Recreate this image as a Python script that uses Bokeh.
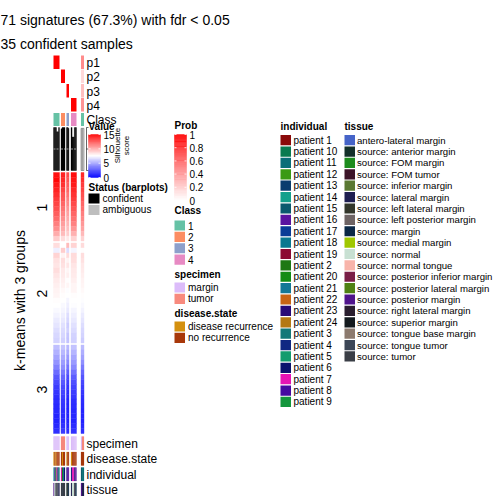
import numpy as np
from bokeh.plotting import figure
from bokeh.models import ColumnDataSource, Range1d, LinearColorMapper
from bokeh.core.properties import value
from bokeh.embed import file_html
from bokeh.resources import INLINE

# ---------------- data ----------------
title_line1 = "71 signatures (67.3%) with fdr < 0.05"
title_line2 = "35 confident samples"
row_title = "k-means with 3 groups"
row_groups = ["1", "2", "3"]

class_levels = ["1", "2", "3", "4"]
class_colors = ["#66C2A5", "#FC8D62", "#8DA0CB", "#E78AC3"]
slice_class = ["1", "2", "3", "4", "1"]

prob_names = ["p1", "p2", "p3", "p4"]
prob_p1 = [1.0, 0.0, 0.0, 0.0, 0.45]
prob_p2 = [0.0, 1.0, 0.0, 0.0, 0.15]
prob_p3 = [0.0, 0.0, 1.0, 0.0, 0.25]
prob_p4 = [0.0, 0.0, 0.0, 1.0, 0.42]
prob_ticks = [1, 0.8, 0.6, 0.4, 0.2, 0]
prob_tick_labels = ["1", "0.8", "0.6", "0.4", "0.2", "0"]

value_ticks = [15, 10, 5, 0]
value_tick_labels = ["15", "10", "5", "0"]

# heatmap values per column slice, rows top->bottom (group 1: 14 bins, group 2: 20 bins, group 3: 18 bins)
hm_s1 = [14.5, 14.8, 14.2, 14.0, 13.6, 13.3, 13.0, 12.6, 12.2, 11.8, 11.3, 10.8, 10.0, 9.0,
         8.5, 7.0, 8.8, 8.4, 8.3, 8.5, 8.3, 8.1, 8.0, 7.9, 7.8, 7.6, 7.5, 7.3, 7.1, 6.9, 6.7, 6.5, 6.3, 6.2,
         5.6, 5.2, 4.8, 4.3, 3.8, 3.2, 2.6, 2.2, 1.8, 1.6, 1.4, 1.3, 1.2, 1.2, 1.1, 1.0, 1.2, 1.4]
hm_s2 = [14.0, 13.8, 13.5, 13.0, 12.5, 12.4, 12.0, 11.6, 11.2, 10.8, 10.4, 10.0, 9.5, 8.5,
         7.5, 9.0, 7.9, 8.5, 8.4, 8.2, 8.1, 8.0, 7.9, 7.7, 7.6, 7.5, 7.3, 7.2, 7.0, 6.8, 6.6, 6.4, 6.3, 6.1,
         5.8, 5.4, 5.0, 4.6, 4.2, 3.6, 3.0, 2.6, 2.2, 2.0, 1.8, 1.6, 1.5, 1.4, 1.3, 1.3, 1.5, 1.7]
hm_s3 = [12.8, 12.5, 12.2, 12.0, 11.6, 11.2, 11.0, 10.6, 10.3, 10.0, 9.7, 9.4, 9.0, 8.2,
         9.5, 6.5, 8.6, 7.9, 8.3, 7.8, 8.0, 7.6, 7.8, 7.4, 7.5, 7.2, 7.0, 6.8, 6.5, 6.3, 6.0, 6.1, 5.8, 5.7,
         5.4, 5.0, 4.5, 4.0, 3.4, 2.8, 2.2, 1.8, 1.5, 1.3, 1.2, 1.1, 1.0, 1.0, 1.0, 1.1, 1.2, 1.4]
hm_s4 = [14.6, 14.4, 14.2, 13.8, 13.5, 13.2, 12.8, 12.4, 12.0, 11.6, 11.2, 10.6, 9.8, 8.8,
         8.8, 7.2, 8.6, 8.5, 8.3, 8.2, 8.1, 8.0, 7.8, 7.8, 7.6, 7.5, 7.4, 7.2, 7.0, 6.8, 6.6, 6.4, 6.2, 6.1,
         5.7, 5.3, 4.9, 4.5, 4.0, 3.4, 2.8, 2.4, 2.0, 1.8, 1.6, 1.4, 1.3, 1.2, 1.2, 1.1, 1.3, 1.5]
hm_s5 = [13.8, 13.6, 13.2, 13.0, 12.6, 12.4, 12.0, 11.7, 11.3, 11.0, 10.6, 10.2, 9.6, 8.8,
         8.6, 7.6, 8.5, 8.4, 8.2, 8.1, 8.0, 7.9, 7.8, 7.7, 7.6, 7.4, 7.3, 7.1, 6.9, 6.7, 6.5, 6.3, 6.2, 6.0,
         5.5, 5.1, 4.7, 4.2, 3.6, 3.0, 2.5, 2.1, 1.8, 1.6, 1.4, 1.3, 1.2, 1.1, 1.1, 1.0, 1.2, 1.4]

# samples (columns) per slice
sample_slice = [0, 0, 0, 0, 0, 0, 1, 1, 1, 1, 2, 2, 2, 3, 3, 3, 3, 3, 4, 4, 4]
silhouette = [1.0, 1.0, 1.0, 0.9, 0.9, 1.0,
              0.97, 1.0, 1.0, 1.0,
              1.0, 1.0, 0.98,
              1.0, 0.78, 0.78, 1.0, 1.0,
              0.98, 0.98, 0.98]
status = ["confident"] * 18 + ["ambiguous"] * 3
status_levels = ["confident", "ambiguous"]
status_colors = ["#000000", "#BEBEBE"]

specimen = ["margin"] * 6 + ["tumor"] * 4 + ["margin"] * 3 + ["margin"] * 5 + ["margin", "tumor", "tumor"]
specimen_levels = ["margin", "tumor"]
specimen_colors = ["#DCBCFA", "#F88A7E"]

disease = ["disease recurrence", "no recurrence", "disease recurrence", "no recurrence", "no recurrence", "no recurrence",
           "no recurrence", "disease recurrence", "no recurrence", "no recurrence",
           "disease recurrence", "no recurrence", "no recurrence",
           "disease recurrence", "no recurrence", "no recurrence", "no recurrence", "no recurrence",
           "no recurrence", "no recurrence", "no recurrence"]
disease_levels = ["disease recurrence", "no recurrence"]
disease_colors = ["#D4900F", "#A8380A"]

individual = ["patient 14", "patient 8", "patient 20", "patient 7", "patient 13", "patient 11",
              "patient 7", "patient 2", "patient 21", "patient 6",
              "patient 23", "patient 8", "patient 16",
              "patient 4", "patient 7", "patient 7", "patient 23", "patient 16",
              "patient 15", "patient 3", "patient 11"]
individual_levels = ["patient 1", "patient 10", "patient 11", "patient 12", "patient 13", "patient 14",
                     "patient 15", "patient 16", "patient 17", "patient 18", "patient 19", "patient 2",
                     "patient 20", "patient 21", "patient 22", "patient 23", "patient 24", "patient 3",
                     "patient 4", "patient 5", "patient 6", "patient 7", "patient 8", "patient 9"]
individual_colors = ["#8B0A0A", "#0A7A50", "#0A6E78", "#3A9A14", "#0A3C6E", "#14A08C",
                     "#0A5A6E", "#5A14A0", "#0A3C96", "#0A7890", "#8C0A32", "#1E7814",
                     "#148C14", "#147896", "#C86414", "#280A78", "#B47814", "#147878",
                     "#0F2882", "#149C6E", "#0A146E", "#E614B4", "#460AA0", "#14963C"]

tissue = ["source: posterior margin", "source: normal", "source: tumor", "source: tumor", "source: tongue tumor", "source: lateral margin",
          "source: tumor", "source: tongue tumor", "source: tumor", "source: tumor",
          "source: anterior margin", "source: superior margin", "source: margin",
          "source: lateral margin", "source: normal", "source: normal", "source: right lateral margin", "source: margin",
          "source: posterior margin", "source: lateral margin", "source: lateral margin"]
tissue_levels = ["antero-lateral margin", "source: anterior margin", "source: FOM margin", "source: FOM tumor",
                 "source: inferior margin", "source: lateral margin", "source: left lateral margin",
                 "source: left posterior margin", "source: margin", "source: medial margin", "source: normal",
                 "source: normal tongue", "source: posterior inferior margin", "source: posterior lateral margin",
                 "source: posterior margin", "source: right lateral margin", "source: superior margin",
                 "source: tongue base margin", "source: tongue tumor", "source: tumor"]
tissue_colors = ["#4664C8", "#14302A", "#1E8C1E", "#3C1428", "#5A7832", "#1E1E50", "#32362A",
                 "#6E6464", "#0A2846", "#A0C800", "#C8E0D2", "#F8B4AA", "#7A1E46", "#508214",
                 "#50148C", "#2A1E2E", "#141A1E", "#8C7A6E", "#3C4656", "#3A3E46"]

# ---------------- layout (reference pixel coordinates) ----------------
FONT = "Liberation Sans"
SLICE_X = [(53, 59), (60.5, 64.5), (66, 68.5), (70.5, 76), (80.5, 83.5)]
GROUP_Y = [(172, 240.5, 14), (242.5, 342.5, 20), (344.5, 433, 18)]
P_ROWS = [(55, 68.5), (69, 82.5), (83.5, 97), (97.5, 111)]
CLASS_ROW = (112.5, 125.5)
SIL_TOP, SIL_BOT = 127, 170
BOTTOM_ROWS = [(436, 449.5), (451.5, 465), (467, 480.5), (482.5, 495.5)]
BOTTOM_LABEL_Y = [443.5, 458.5, 474, 489]
P_LABEL_Y = [62, 76.5, 91, 105]
ANNO_LABEL_X = 86
LEG_FS = "10px"
TISSUE_FS = "9.6px"


def mix(c1, c2, t):
    a = [int(c1[i:i + 2], 16) for i in (1, 3, 5)]
    b = [int(c2[i:i + 2], 16) for i in (1, 3, 5)]
    return "#%02x%02x%02x" % tuple(int(round(a[k] + (b[k] - a[k]) * t)) for k in range(3))


value_palette = [mix("#0000FF", "#FFFFFF", i / 127) for i in range(128)] + \
                [mix("#FFFFFF", "#FF0000", i / 127) for i in range(128)]
prob_palette = [mix("#FFFFFF", "#FF0000", i / 255) for i in range(256)]
value_mapper = LinearColorMapper(palette=value_palette, low=0, high=15)
prob_mapper = LinearColorMapper(palette=prob_palette, low=0, high=1)

p = figure(width=496, height=496, x_range=Range1d(0, 496), y_range=Range1d(496, 0),
           output_backend="svg", toolbar_location=None, min_border=0,
           x_axis_location=None, y_axis_location=None)
p.grid.visible = False
p.outline_line_color = None
p.background_fill_color = "white"
p.border_fill_color = "white"


def txt(x, y, t, size, align="left", baseline="middle", angle=0.0, style="normal", color="black"):
    p.text(x=x, y=y, text=t, text_font=value(FONT), text_font_size=value(size),
           text_align=align, text_baseline=baseline, angle=angle, text_font_style=style,
           text_color=color)


# ---- heatmap ----
hm_values = [hm_s1, hm_s2, hm_s3, hm_s4, hm_s5]
hm = dict(left=[], right=[], top=[], bottom=[], v=[])
for si, (x0, x1) in enumerate(SLICE_X):
    k = 0
    for (y0, y1, n) in GROUP_Y:
        h = (y1 - y0) / n
        for b in range(n):
            hm["left"].append(x0); hm["right"].append(x1)
            hm["top"].append(y0 + b * h); hm["bottom"].append(y0 + (b + 1) * h)
            hm["v"].append(hm_values[si][k]); k += 1
p.quad(left="left", right="right", top="top", bottom="bottom", source=ColumnDataSource(hm),
       fill_color={"field": "v", "transform": value_mapper},
       line_color={"field": "v", "transform": value_mapper}, line_width=0.4)

# ---- probability rows ----
prob_rows = [prob_p1, prob_p2, prob_p3, prob_p4]
pr = dict(left=[], right=[], top=[], bottom=[], v=[])
for ri, (y0, y1) in enumerate(P_ROWS):
    for si, (x0, x1) in enumerate(SLICE_X):
        pr["left"].append(x0); pr["right"].append(x1)
        pr["top"].append(y0); pr["bottom"].append(y1)
        pr["v"].append(prob_rows[ri][si])
p.quad(left="left", right="right", top="top", bottom="bottom", source=ColumnDataSource(pr),
       fill_color={"field": "v", "transform": prob_mapper}, line_color=None)

# ---- class row ----
cmap_class = dict(zip(class_levels, class_colors))
p.quad(left=[a for a, b in SLICE_X], right=[b for a, b in SLICE_X],
       top=CLASS_ROW[0], bottom=CLASS_ROW[1],
       fill_color=[cmap_class[c] for c in slice_class], line_color=None)

# ---- per-sample positions ----
counts = [sample_slice.count(s) for s in range(len(SLICE_X))]
sx0, sx1 = [], []
seen = [0] * len(SLICE_X)
for s in sample_slice:
    x0, x1 = SLICE_X[s]
    w = (x1 - x0) / counts[s]
    sx0.append(x0 + seen[s] * w); sx1.append(x0 + (seen[s] + 1) * w)
    seen[s] += 1

# ---- silhouette barplot ----
sil_h = SIL_BOT - SIL_TOP
conf = [i for i, st in enumerate(status) if st == "confident"]
amb = [i for i, st in enumerate(status) if st == "ambiguous"]
p.quad(left=[sx0[i] for i in conf], right=[sx1[i] for i in conf],
       top=[SIL_BOT - silhouette[i] * sil_h for i in conf], bottom=SIL_BOT,
       fill_color="black", line_color="black", line_width=0.3)
p.quad(left=[sx0[i] for i in amb], right=[sx1[i] for i in amb],
       top=[SIL_BOT - silhouette[i] * sil_h for i in amb], bottom=SIL_BOT,
       fill_color="#F4F4F4", line_color="#777777", line_width=0.6)
for (x0, x1) in SLICE_X[:4]:
    p.line(x=[x0, x1], y=[SIL_BOT - 0.5 * sil_h] * 2, line_color="#BBBBBB",
           line_dash="2 1", line_width=0.8)
# silhouette axis
p.line(x=[86, 86], y=[SIL_TOP, SIL_BOT], line_color="black", line_width=0.6)
p.multi_line(xs=[[86, 88]] * 3, ys=[[SIL_TOP] * 2, [SIL_TOP + sil_h / 2] * 2, [SIL_BOT] * 2],
             line_color="black", line_width=0.6)

# ---- bottom annotations ----
anno_vals = [specimen, disease, individual, tissue]
anno_maps = [dict(zip(specimen_levels, specimen_colors)), dict(zip(disease_levels, disease_colors)),
             dict(zip(individual_levels, individual_colors)), dict(zip(tissue_levels, tissue_colors))]
for (y0, y1), vals, cm in zip(BOTTOM_ROWS, anno_vals, anno_maps):
    p.quad(left=sx0, right=sx1, top=y0, bottom=y1, fill_color=[cm[v] for v in vals],
           line_color=[cm[v] for v in vals], line_width=0.2)

# ---- labels ----
txt([0], [19], [title_line1], "14px")
txt([0], [43], [title_line2], "14px")
txt([ANNO_LABEL_X] * 4, P_LABEL_Y, prob_names, "12px")
txt([ANNO_LABEL_X], [119], ["Class"], "12px")
txt([ANNO_LABEL_X] * 4, BOTTOM_LABEL_Y, ["specimen", "disease.state", "individual", "tissue"], "12px")
txt([19], [300], [row_title], "14px", align="center", angle=np.pi / 2)
txt([41, 41, 41], [207, 293, 389], row_groups, "14px", align="center", angle=np.pi / 2)

# ---- Value legend ----
txt([88], [126], ["Value"], "10px", style="bold")
vb_top, vb_bot = 134, 177
grad = np.linspace(15, 0, 60)
gh = (vb_bot - vb_top) / len(grad)
p.quad(left=88, right=100, top=[vb_top + i * gh for i in range(len(grad))],
       bottom=[vb_top + (i + 1) * gh for i in range(len(grad))],
       fill_color=[value_palette[min(255, int(g / 15 * 255))] for g in grad],
       line_color=[value_palette[min(255, int(g / 15 * 255))] for g in grad], line_width=0.3)
vt_y = [vb_top + (15 - t) / 15 * (vb_bot - vb_top) for t in value_ticks]
p.multi_line(xs=[[88, 90] for _ in vt_y] + [[98, 100] for _ in vt_y],
             ys=[[y, y] for y in vt_y] * 2, line_color="white", line_width=0.8)
txt([103] * 4, vt_y, value_tick_labels, LEG_FS)
txt([117], [145], ["Silhouette"], "8px", align="center", angle=np.pi / 2)
txt([126], [145], ["score"], "8px", align="center", angle=np.pi / 2)

# ---- Status legend ----
txt([88], [187], ["Status (barplots)"], "10px", style="bold")
st_y = [198, 209.4]
p.quad(left=88, right=99, top=[y - 5 for y in st_y], bottom=[y + 5 for y in st_y],
       fill_color=status_colors, line_color=None)
txt([102] * 2, st_y, status_levels, LEG_FS)

# ---- Prob legend ----
txt([174], [125], ["Prob"], "10px", style="bold")
pb_top, pb_bot = 134, 200
grad = np.linspace(1, 0, 80)
gh = (pb_bot - pb_top) / len(grad)
p.quad(left=174, right=186, top=[pb_top + i * gh for i in range(len(grad))],
       bottom=[pb_top + (i + 1) * gh for i in range(len(grad))],
       fill_color=[prob_palette[int(g * 255)] for g in grad],
       line_color=[prob_palette[int(g * 255)] for g in grad], line_width=0.3)
pt_y = [pb_top + (1 - t) * (pb_bot - pb_top) for t in prob_ticks]
p.multi_line(xs=[[174, 176] for _ in pt_y] + [[184, 186] for _ in pt_y],
             ys=[[y, y] for y in pt_y] * 2, line_color="white", line_width=0.8)
txt([189] * len(pt_y), pt_y, prob_tick_labels, LEG_FS)

STEP = 11.38


def legend_block(x, title_y, first_y, labels, colors, sq=10.5, gap=3, fs=LEG_FS):
    txt([x], [title_y], [labels[0]], "10px", style="bold")
    ys = [first_y + i * STEP for i in range(len(labels) - 1)]
    p.quad(left=x, right=x + sq, top=[y - 5.1 for y in ys], bottom=[y + 5.1 for y in ys],
           fill_color=colors, line_color=None)
    txt([x + sq + gap] * len(ys), ys, labels[1:], fs)


legend_block(174, 210, 225, ["Class"] + class_levels, class_colors)
legend_block(174, 274, 287, ["specimen"] + specimen_levels, specimen_colors)
legend_block(174, 313, 326, ["disease.state"] + disease_levels, disease_colors)
legend_block(280, 126, 139.7, ["individual"] + individual_levels, individual_colors, sq=10.5, gap=2.5)
legend_block(344, 126, 139.7, ["tissue"] + tissue_levels, tissue_colors, sq=10.5, gap=2, fs=TISSUE_FS)

open("out.html", "w").write(file_html(p, INLINE))
